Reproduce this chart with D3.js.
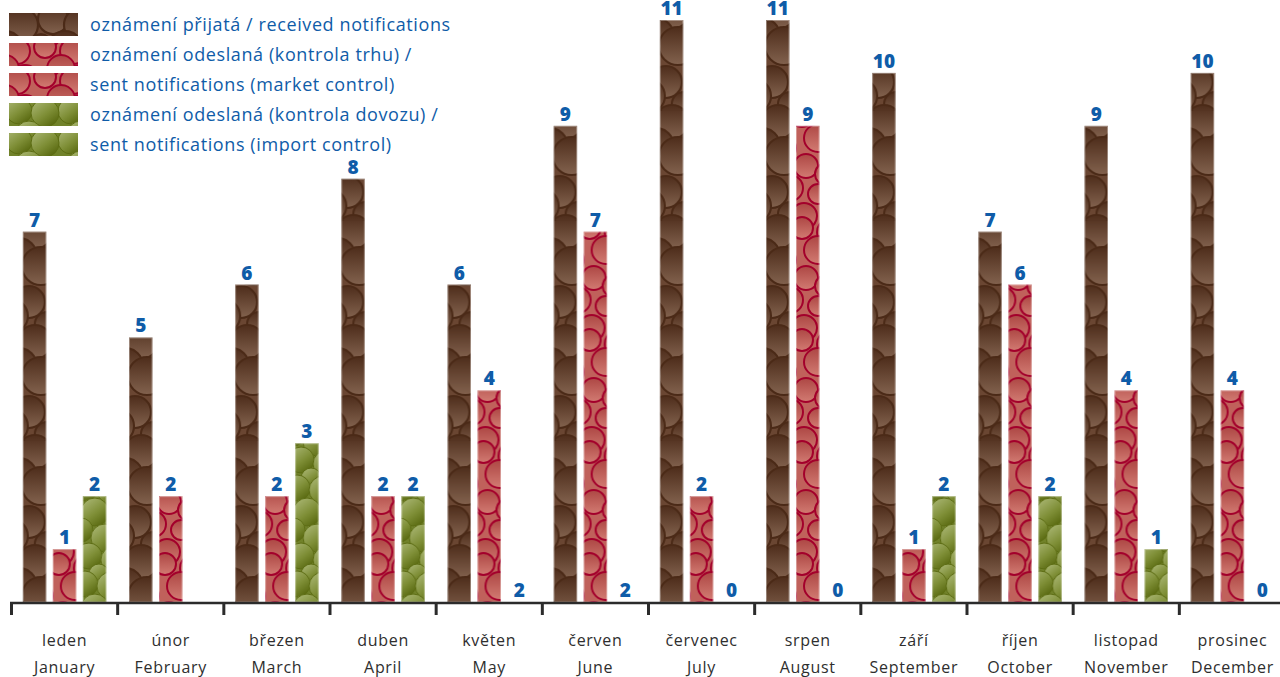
<!DOCTYPE html>
<html>
<head>
<meta charset="utf-8">
<script src="https://cdn.jsdelivr.net/npm/d3@7/dist/d3.min.js"></script>
<style>
  html, body { margin: 0; padding: 0; background: #fff; }
  svg { display: block; }
  text { font-family: "Open Sans", "Noto Sans", sans-serif; }
</style>
</head>
<body>
<svg id="chart" width="1280" height="677"></svg>
<script>
// Monthly counts of notifications
const monthsCz = ["leden", "únor", "březen", "duben", "květen", "červen", "červenec", "srpen", "září", "říjen", "listopad", "prosinec"];
const monthsEn = ["January", "February", "March", "April", "May", "June", "July", "August", "September", "October", "November", "December"];
const received = [7, 5, 6, 8, 6, 9, 11, 11, 10, 7, 9, 10];
const sentMarket = [1, 2, 2, 2, 4, 7, 2, 9, 1, 6, 4, 4];
const sentImport = [2, 0, 3, 2, 0, 0, 0, 0, 2, 2, 1, 0];
// printed labels for the import series (February carries none)
const importLabels = ["2", null, "3", "2", "2", "2", "0", "0", "2", "2", "1", "0"];
const legendLines = [
  ["oznámení přijatá / received notifications", "received"],
  ["oznámení odeslaná (kontrola trhu) /", "market"],
  ["sent notifications (market control)", "market"],
  ["oznámení odeslaná (kontrola dovozu) /", "import"],
  ["sent notifications (import control)", "import"]
];
const seriesKeys = ["received", "market", "import"];

const svg = d3.select("#chart");
const defs = svg.append("defs");

// ---- bubble textures ----
const textures = {
  received: {
    base: "#6a4632", stroke: "#4b2a17", sw: 2.2,
    grad: [["0%", "#4e2d1b"], ["100%", "#82624e"]], dir: [0, 0, 0, 1],
    w: 60, h: 110,
    circles: [[12, 12, 17], [44, 6, 15], [56, 36, 18], [18, 46, 19], [40, 68, 15], [6, 82, 16], [48, 96, 17], [24, 104, 12], [32, 30, 9]]
  },
  market: {
    base: "#c0615b", stroke: "#a3002b", sw: 2,
    grad: [["0%", "#ad4744"], ["100%", "#d27b72"]], dir: [0, 0, 0, 1],
    w: 56, h: 112,
    circles: [[8, 8, 13], [36, 4, 11], [52, 26, 14], [16, 36, 14], [40, 54, 12], [4, 62, 11], [24, 76, 13], [52, 82, 10], [12, 98, 12], [38, 104, 13]]
  },
  import: {
    base: "#71822a", stroke: "#5c6c12", sw: 1,
    grad: [["0%", "#a3b06a"], ["55%", "#7e8e36"], ["100%", "#5b6b12"]], dir: [0.2, 0.1, 0.8, 0.9],
    w: 52, h: 96,
    circles: [[10, 8, 13], [36, 10, 14], [20, 32, 14], [46, 40, 13], [6, 50, 12], [30, 58, 14], [14, 76, 13], [40, 80, 14], [24, 94, 10]]
  }
};

Object.entries(textures).forEach(([key, t]) => {
  const g = defs.append("linearGradient").attr("id", "g-" + key)
    .attr("x1", t.dir[0]).attr("y1", t.dir[1]).attr("x2", t.dir[2]).attr("y2", t.dir[3]);
  t.grad.forEach(s => g.append("stop").attr("offset", s[0]).attr("stop-color", s[1]));
  const p = defs.append("pattern").attr("id", "p-" + key)
    .attr("patternUnits", "userSpaceOnUse").attr("width", t.w).attr("height", t.h);
  p.append("rect").attr("width", t.w).attr("height", t.h).attr("fill", t.base);
  const all = [];
  t.circles.forEach(([cx, cy, r]) => {
    for (const dx of [-t.w, 0, t.w]) for (const dy of [-t.h, 0, t.h]) {
      const x = cx + dx, y = cy + dy;
      if (x + r > -2 && x - r < t.w + 2 && y + r > -2 && y - r < t.h + 2) all.push([x, y, r]);
    }
  });
  all.sort((a, b) => a[1] - b[1]);
  p.selectAll("circle").data(all).join("circle")
    .attr("cx", d => d[0]).attr("cy", d => d[1]).attr("r", d => d[2])
    .attr("fill", "url(#g-" + key + ")")
    .attr("stroke", t.stroke).attr("stroke-width", t.sw);
});

// ---- scales ----
const baseY = 602;
const x = d3.scaleBand().domain(monthsEn).range([11.5, 1285.5]).paddingInner(0).paddingOuter(0);
const clusterW = 83.5;
const xs = d3.scaleBand().domain(seriesKeys).range([0, clusterW]).paddingInner(0.217).paddingOuter(0);
const y = d3.scaleLinear().domain([0, 11]).range([baseY, 20]);
const groupOffset = (x.bandwidth() - clusterW) / 2;

const rows = monthsEn.map((m, i) => ({
  month: m,
  values: [
    { key: "received", v: received[i], label: String(received[i]) },
    { key: "market", v: sentMarket[i], label: String(sentMarket[i]) },
    { key: "import", v: sentImport[i], label: importLabels[i] }
  ]
}));

const groups = svg.append("g").selectAll("g").data(rows).join("g")
  .attr("transform", d => `translate(${x(d.month) + groupOffset},0)`);

groups.selectAll("rect").data(d => d.values.filter(v => v.v > 0)).join("rect")
  .attr("x", d => xs(d.key))
  .attr("y", d => y(d.v))
  .attr("width", xs.bandwidth())
  .attr("height", d => baseY - y(d.v))
  .attr("fill", d => "url(#p-" + d.key + ")");

// pale edge highlight on each bar
groups.selectAll("rect.edge").data(d => d.values.filter(v => v.v > 0)).join("rect")
  .attr("class", "edge")
  .attr("x", d => xs(d.key) + 0.5)
  .attr("y", d => y(d.v) + 0.5)
  .attr("width", xs.bandwidth() - 1)
  .attr("height", d => baseY - y(d.v) - 0.5)
  .attr("fill", "none")
  .attr("stroke", "rgba(255,255,255,0.35)")
  .attr("stroke-width", 1);

groups.selectAll("text.val").data(d => d.values.filter(v => v.label !== null)).join("text")
  .attr("class", "val")
  .attr("x", d => xs(d.key) + xs.bandwidth() / 2)
  .attr("y", d => y(d.v) - 5)
  .attr("text-anchor", "middle")
  .attr("fill", "#0f5ca8")
  .attr("font-size", 19)
  .attr("font-weight", 800)
  .text(d => d.label);

// ---- axis ----
const axis = svg.append("g");
axis.append("line")
  .attr("x1", x.range()[0] - 1.5).attr("x2", 1280)
  .attr("y1", baseY + 1).attr("y2", baseY + 1)
  .attr("stroke", "#2b2b2b").attr("stroke-width", 2.5);
axis.selectAll("line.tick").data(monthsEn).join("line")
  .attr("class", "tick")
  .attr("x1", d => x(d)).attr("x2", d => x(d))
  .attr("y1", baseY).attr("y2", baseY + 13)
  .attr("stroke", "#2b2b2b").attr("stroke-width", 3);

const lab = axis.selectAll("g.lab").data(monthsEn).join("g")
  .attr("class", "lab")
  .attr("transform", d => `translate(${x(d) + x.bandwidth() / 2},0)`);
lab.append("text")
  .attr("y", 646).attr("text-anchor", "middle")
  .attr("fill", "#2e2e2e").attr("font-size", 16).attr("font-weight", 500)
  .attr("letter-spacing", 0.7)
  .text((d, i) => monthsCz[i]);
lab.append("text")
  .attr("y", 673).attr("text-anchor", "middle")
  .attr("fill", "#2e2e2e").attr("font-size", 16).attr("font-weight", 500)
  .attr("letter-spacing", 0.7)
  .text(d => d);

// ---- legend ----
const legend = svg.append("g").selectAll("g").data(legendLines).join("g")
  .attr("transform", (d, i) => `translate(9,${13 + i * 30})`);
legend.append("rect")
  .attr("width", 69).attr("height", 23)
  .attr("fill", d => "url(#p-" + d[1] + ")");
legend.append("text")
  .attr("x", 81).attr("y", 18)
  .attr("fill", "#0f5ca8").attr("font-size", 18).attr("font-weight", 500)
  .attr("letter-spacing", 0.6)
  .text(d => d[0]);
</script>
</body>
</html>
